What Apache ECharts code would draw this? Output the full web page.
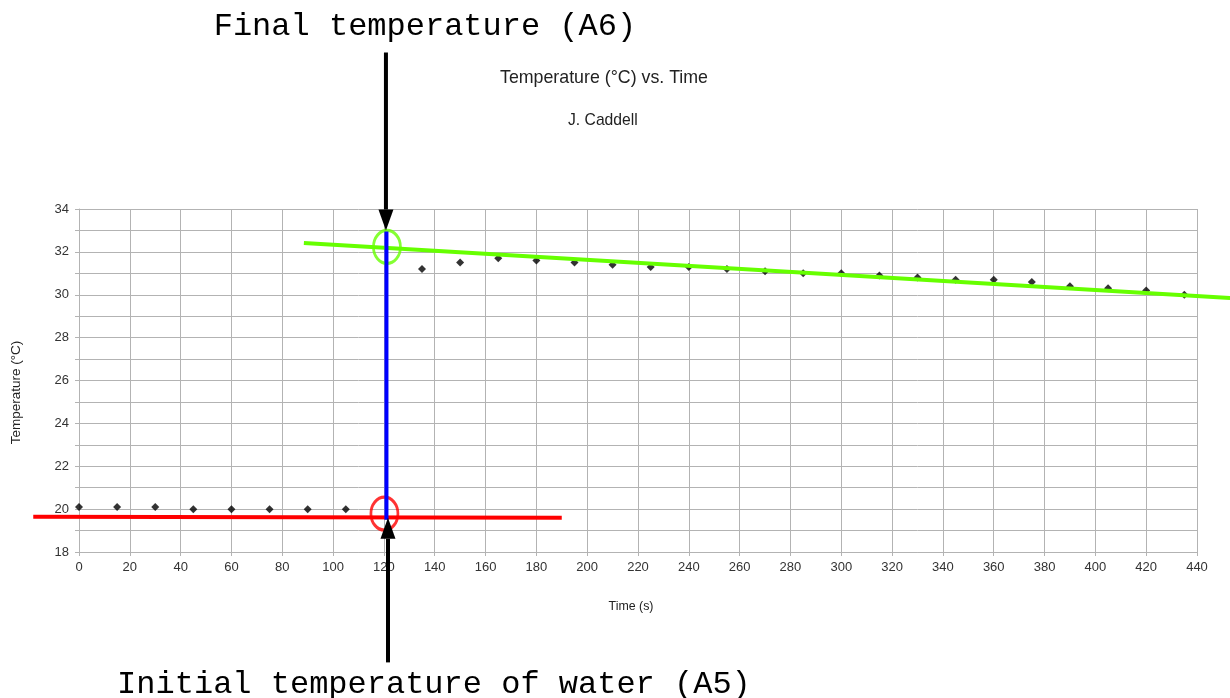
<!DOCTYPE html>
<html lang="en">
<head>
    <meta charset="UTF-8">
    <title>Temperature (°C) vs. Time</title>
    <script src="https://cdn.jsdelivr.net/npm/echarts@6/dist/echarts.min.js"></script>
    <style>
        html, body { margin: 0; padding: 0; background: #fff; }
    </style>
</head>
<body>
    <div id="chart" style="width: 1230px; height: 698px;"></div>

    <script>
        // measured points (time in s, temperature in °C), no reading at 120 s
        var times = [0, 15, 30, 45, 60, 75, 90, 105,
            135, 150, 165, 180, 195, 210, 225, 240, 255, 270, 285, 300,
            315, 330, 345, 360, 375, 390, 405, 420, 435]
        var temps = [20.1, 20.1, 20.1, 20.0, 20.0, 20.0, 20.0, 20.0,
            31.2, 31.5, 31.7, 31.6, 31.5, 31.4, 31.3, 31.3, 31.2, 31.1, 31.0, 31.0,
            30.9, 30.8, 30.7, 30.7, 30.6, 30.4, 30.3, 30.2, 30.0]

        // hand drawn lines on top of the chart
        var greenX = [88.5, 453]
        var greenY = [32.41, 29.85]
        var redX = [-18, 190]
        var redY = [19.65, 19.6]
        var blueX = [121, 121]
        var blueY = [32.95, 19.5]

        // circles around the two readings
        var greenCircle = [121.2, 32.23]
        var redCircle = [120.2, 19.79]

        // arrows: [time, from temp, to temp]
        var topArrow = [120.8, 41.3, 33.0]
        var bottomArrow = [121.6, 12.85, 19.6]

        var xTicks = { min: 0, max: 440, step: 20 }
        var yTicks = { min: 18, max: 34, step: 2 }

        function pairs(xs, ys) {
            return xs.map(function (x, i) { return [x, ys[i]] })
        }

        var gridColor = "#b3b3b3"
        var chart = echarts.init(document.getElementById("chart"))

        var option = {
            animation: false,
            backgroundColor: "#fff",
            textStyle: { fontFamily: "Liberation Sans" },
            title: [
                {
                    text: "Temperature (°C) vs. Time",
                    left: 495, top: 63,
                    textStyle: { fontSize: 17.8, fontWeight: "normal", color: "#222", lineHeight: 20 }
                },
                {
                    text: "J. Caddell",
                    left: 563, top: 107,
                    textStyle: { fontSize: 15.7, fontWeight: "normal", color: "#222", lineHeight: 18 }
                }
            ],
            grid: { left: 79, right: 33, top: 209, bottom: 146, containLabel: false },
            xAxis: {
                type: "value",
                min: xTicks.min, max: xTicks.max, interval: xTicks.step,
                name: "Time (s)",
                nameLocation: "middle",
                nameGap: 49,
                nameTextStyle: { fontSize: 12.4, color: "#222", padding: [0, 14, 0, 0] },
                axisLine: { lineStyle: { color: gridColor } },
                axisTick: { show: true, length: 4, lineStyle: { color: gridColor } },
                axisLabel: { fontSize: 13, color: "#333", margin: 9 },
                splitLine: { show: true, lineStyle: { color: gridColor, width: 1 } }
            },
            yAxis: {
                type: "value",
                min: yTicks.min, max: yTicks.max, interval: yTicks.step,
                name: "Temperature (°C)",
                nameLocation: "middle",
                nameRotate: 90,
                nameGap: 56,
                nameTextStyle: { fontSize: 13.5, color: "#222", padding: [0, 24, 0, 0] },
                axisLine: { show: true, lineStyle: { color: gridColor } },
                axisTick: { show: true, length: 4, lineStyle: { color: gridColor } },
                minorTick: { show: true, splitNumber: 2, length: 4, lineStyle: { color: gridColor } },
                axisLabel: { fontSize: 13, color: "#333", margin: 10 },
                splitLine: { show: true, lineStyle: { color: gridColor, width: 1 } },
                minorSplitLine: { show: true, lineStyle: { color: gridColor, width: 1 } }
            },
            series: [
                {
                    name: "Temperature",
                    type: "scatter",
                    symbol: "diamond",
                    symbolSize: 8,
                    itemStyle: { color: "#000" },
                    data: pairs(times, temps),
                    z: 2
                },
                {
                    type: "scatter",
                    symbol: "circle",
                    symbolSize: [27, 33],
                    clip: false,
                    itemStyle: { color: "rgba(0,0,0,0)", borderColor: "#66ff00", borderWidth: 3 },
                    data: [greenCircle],
                    z: 5
                },
                {
                    type: "scatter",
                    symbol: "circle",
                    symbolSize: [27, 33],
                    clip: false,
                    itemStyle: { color: "rgba(0,0,0,0)", borderColor: "#ff0000", borderWidth: 3 },
                    data: [redCircle],
                    z: 5
                }
            ]
        }

        chart.setOption(option)

        // #region hand drawn lines, arrows + labels (placed through the axes)
        function px(x, y) {
            return chart.convertToPixel({ gridIndex: 0 }, [x, y])
        }

        function stroke(xs, ys, color, z) {
            return {
                type: "polyline",
                shape: { points: xs.map(function (x, i) { return px(x, ys[i]) }) },
                style: { stroke: color, lineWidth: 4, fill: null },
                z: z
            }
        }

        function arrow(a) {
            var p0 = px(a[0], a[1])
            var p1 = px(a[0], a[2])
            var dir = p1[1] > p0[1] ? 1 : -1
            var headLen = 21, headHalf = 7.5
            var baseY = p1[1] - dir * headLen
            return [
                {
                    type: "line",
                    shape: { x1: p0[0], y1: p0[1], x2: p0[0], y2: baseY },
                    style: { stroke: "#000", lineWidth: 4 },
                    z: 100
                },
                {
                    type: "polygon",
                    shape: { points: [[p1[0] - headHalf, baseY], [p1[0] + headHalf, baseY], [p1[0], p1[1]]] },
                    style: { fill: "#000" },
                    z: 100
                }
            ]
        }

        var topPx = px(topArrow[0], topArrow[1])
        var botPx = px(bottomArrow[0], bottomArrow[1])

        var shapes = [
            stroke(greenX, greenY, "#66ff00", 10),
            stroke(redX, redY, "#ff0000", 10),
            stroke(blueX, blueY, "#0000ff", 11)
        ]

        chart.setOption({
            graphic: shapes.concat(arrow(topArrow)).concat(arrow(bottomArrow)).concat([
                {
                    type: "text",
                    x: topPx[0] + 39, y: topPx[1] - 26,
                    style: {
                        text: "Final temperature (A6)",
                        font: "32px 'Liberation Mono'",
                        fill: "#000",
                        align: "center",
                        verticalAlign: "middle"
                    },
                    z: 100
                },
                {
                    type: "text",
                    x: botPx[0] + 46, y: botPx[1] + 22,
                    style: {
                        text: "Initial temperature of water (A5)",
                        font: "32px 'Liberation Mono'",
                        fill: "#000",
                        align: "center",
                        verticalAlign: "middle"
                    },
                    z: 100
                }
            ])
        })
        // #endregion
    </script>
</body>
</html>
